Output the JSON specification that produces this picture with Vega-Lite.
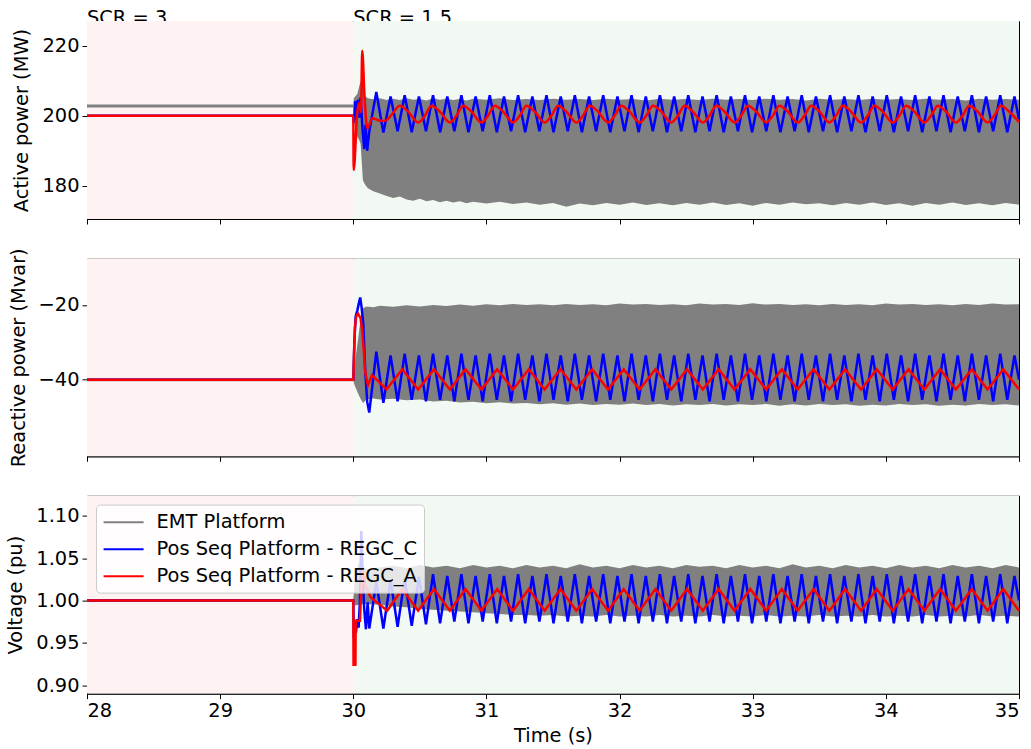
{
"$schema": "https://vega.github.io/schema/vega-lite/v6.json",
"padding": {"left": 5, "top": 7, "right": 5, "bottom": 5},
"background": "white",
"config": {
  "font": "DejaVu Sans",
  "view": {"stroke": "black", "strokeWidth": 1},
  "axis": {"labelFont": "DejaVu Sans", "titleFont": "DejaVu Sans", "labelFontSize": 19.4, "titleFontSize": 19.4, "titleFontWeight": "normal", "labelColor": "black", "titleColor": "black", "tickColor": "black", "domainColor": "black", "tickSize": 5, "grid": false, "labelPadding": 3}
},
"datasets": {
  "scr": [{"t": 28, "label": "SCR = 3"}, {"t": 30, "label": "SCR = 1.5"}],
  "bg": [{"t": 28, "t2": 30, "c": "pre"}, {"t": 30, "t2": 35, "c": "post"}],
  "pL": [{"t": 28, "v": 202.8}, {"t": 30, "v": 202.8}],
  "qL": [{"t": 28, "v": -40}, {"t": 30, "v": -40}],
  "vL": [{"t": 28, "v": 1}, {"t": 30, "v": 1}],
  "pE": [
    {"t":30,"v":202.35,"v2":203.25},{"t":30.004,"v":198.5,"v2":205},{"t":30.03,"v":194,"v2":206.2},{"t":30.045,"v":193,"v2":208.5},{"t":30.055,"v":192,"v2":209.8},{"t":30.065,"v":186,"v2":209.4},{"t":30.072,"v":181.6,"v2":207.6},{"t":30.09,"v":180.2,"v2":205.6},{"t":30.11,"v":179.3,"v2":205},{"t":30.15,"v":178.4,"v2":204.7},{"t":30.2,"v":177.8,"v2":205},{"t":30.25,"v":177.1,"v2":204.5},{"t":30.3,"v":176.5,"v2":204.9},{"t":30.35,"v":176.9,"v2":204.5},{"t":30.4,"v":176.1,"v2":205},{"t":30.45,"v":175.7,"v2":204.6},{"t":30.5,"v":176.3,"v2":204.8},{"t":30.55,"v":175.6,"v2":204.4},{"t":30.6,"v":175.9,"v2":205},{"t":30.65,"v":175.3,"v2":204.6},{"t":30.7,"v":175.7,"v2":204.9},{"t":30.75,"v":175.2,"v2":204.5},{"t":30.8,"v":175.6,"v2":204.8},{"t":30.85,"v":175,"v2":204.4},{"t":30.9,"v":175.4,"v2":204.9},{"t":31,"v":174.9,"v2":204.6},{"t":31.1,"v":175.4,"v2":205},{"t":31.2,"v":174.8,"v2":204.5},{"t":31.3,"v":175.2,"v2":204.8},{"t":31.4,"v":174.6,"v2":204.5},{"t":31.5,"v":175.1,"v2":204.9},{"t":31.6,"v":174,"v2":204.6},{"t":31.7,"v":174.9,"v2":204.8},{"t":31.8,"v":174.4,"v2":204.5},{"t":31.9,"v":175.1,"v2":204.9},{"t":32,"v":174.6,"v2":204.6},{"t":32.1,"v":175.2,"v2":204.8},{"t":32.2,"v":174.5,"v2":204.4},{"t":32.3,"v":175,"v2":204.9},{"t":32.4,"v":174.4,"v2":204.6},{"t":32.5,"v":175.1,"v2":204.8},{"t":32.6,"v":174.6,"v2":204.5},{"t":32.7,"v":175.2,"v2":204.9},{"t":32.8,"v":174.5,"v2":204.6},{"t":32.9,"v":175,"v2":204.8},{"t":33,"v":174.3,"v2":204.5},{"t":33.1,"v":175.1,"v2":204.9},{"t":33.2,"v":174.6,"v2":204.6},{"t":33.3,"v":175.2,"v2":204.8},{"t":33.4,"v":174.7,"v2":204.4},{"t":33.5,"v":175,"v2":204.9},{"t":33.6,"v":174.4,"v2":204.6},{"t":33.7,"v":175.1,"v2":204.8},{"t":33.8,"v":174.6,"v2":204.5},{"t":33.9,"v":175.2,"v2":204.9},{"t":34,"v":174.5,"v2":204.6},{"t":34.1,"v":175,"v2":204.8},{"t":34.2,"v":174.3,"v2":204.5},{"t":34.3,"v":175.1,"v2":204.9},{"t":34.4,"v":174.6,"v2":204.6},{"t":34.5,"v":175.2,"v2":204.8},{"t":34.6,"v":174.5,"v2":204.4},{"t":34.7,"v":175,"v2":204.9},{"t":34.8,"v":174.4,"v2":204.6},{"t":34.9,"v":175.1,"v2":204.8},{"t":35,"v":174.6,"v2":204.6}
  ],
  "qE": [
    {"t":30,"v":-40.3,"v2":-39.7},{"t":30.01,"v":-41.5,"v2":-36},{"t":30.04,"v":-44,"v2":-28},{"t":30.06,"v":-45.5,"v2":-22.5},{"t":30.075,"v":-46.2,"v2":-20.8},{"t":30.1,"v":-45.2,"v2":-20.4},{"t":30.15,"v":-45,"v2":-20.6},{"t":30.2,"v":-45.3,"v2":-20.2},{"t":30.3,"v":-45.1,"v2":-20.5},{"t":30.4,"v":-45.5,"v2":-20.1},{"t":30.5,"v":-45.3,"v2":-20.4},{"t":30.6,"v":-45.8,"v2":-20},{"t":30.7,"v":-45.6,"v2":-20.3},{"t":30.8,"v":-46.1,"v2":-19.9},{"t":30.9,"v":-45.9,"v2":-20.2},{"t":31,"v":-46.3,"v2":-19.8},{"t":31.1,"v":-46,"v2":-20.1},{"t":31.2,"v":-46.4,"v2":-19.7},{"t":31.3,"v":-46.2,"v2":-20},{"t":31.4,"v":-46.6,"v2":-19.8},{"t":31.5,"v":-46.3,"v2":-20.1},{"t":31.6,"v":-46.7,"v2":-19.7},{"t":31.7,"v":-46.4,"v2":-20},{"t":31.8,"v":-46.8,"v2":-19.8},{"t":31.9,"v":-46.5,"v2":-20.1},{"t":32,"v":-46.7,"v2":-19.6},{"t":32.1,"v":-46.4,"v2":-19.9},{"t":32.2,"v":-46.8,"v2":-19.7},{"t":32.3,"v":-46.5,"v2":-20},{"t":32.4,"v":-46.9,"v2":-19.8},{"t":32.5,"v":-46.6,"v2":-20.1},{"t":32.6,"v":-46.8,"v2":-19.6},{"t":32.7,"v":-46.5,"v2":-19.9},{"t":32.8,"v":-46.9,"v2":-19.7},{"t":32.9,"v":-46.6,"v2":-20},{"t":33,"v":-46.8,"v2":-19.5},{"t":33.1,"v":-46.5,"v2":-19.9},{"t":33.2,"v":-47,"v2":-19.7},{"t":33.3,"v":-46.6,"v2":-20},{"t":33.4,"v":-46.9,"v2":-19.8},{"t":33.5,"v":-46.5,"v2":-20.1},{"t":33.6,"v":-46.8,"v2":-19.7},{"t":33.7,"v":-46.6,"v2":-20},{"t":33.8,"v":-47,"v2":-19.8},{"t":33.9,"v":-46.7,"v2":-20.1},{"t":34,"v":-46.9,"v2":-19.6},{"t":34.1,"v":-46.5,"v2":-19.9},{"t":34.2,"v":-46.8,"v2":-19.7},{"t":34.3,"v":-46.6,"v2":-20},{"t":34.4,"v":-47,"v2":-19.8},{"t":34.5,"v":-46.7,"v2":-20.1},{"t":34.6,"v":-46.9,"v2":-19.7},{"t":34.7,"v":-46.5,"v2":-20},{"t":34.8,"v":-46.8,"v2":-19.6},{"t":34.9,"v":-46.6,"v2":-19.9},{"t":35,"v":-46.9,"v2":-19.8}
  ],
  "vE": [
    {"t":30,"v":0.9985,"v2":1.0015},{"t":30.015,"v":0.994,"v2":1.03},{"t":30.04,"v":0.995,"v2":1.045},{"t":30.07,"v":0.996,"v2":1.041},{"t":30.1,"v":0.996,"v2":1.037},{"t":30.2,"v":0.995,"v2":1.039},{"t":30.3,"v":0.993,"v2":1.041},{"t":30.4,"v":0.992,"v2":1.038},{"t":30.5,"v":0.99,"v2":1.042},{"t":30.6,"v":0.989,"v2":1.039},{"t":30.7,"v":0.988,"v2":1.041},{"t":30.8,"v":0.987,"v2":1.038},{"t":30.9,"v":0.986,"v2":1.042},{"t":31,"v":0.985,"v2":1.039},{"t":31.1,"v":0.984,"v2":1.041},{"t":31.2,"v":0.983,"v2":1.038},{"t":31.3,"v":0.983,"v2":1.042},{"t":31.4,"v":0.982,"v2":1.039},{"t":31.5,"v":0.983,"v2":1.041},{"t":31.6,"v":0.981,"v2":1.038},{"t":31.7,"v":0.982,"v2":1.043},{"t":31.8,"v":0.981,"v2":1.039},{"t":31.9,"v":0.983,"v2":1.041},{"t":32,"v":0.981,"v2":1.038},{"t":32.1,"v":0.982,"v2":1.042},{"t":32.2,"v":0.981,"v2":1.039},{"t":32.3,"v":0.983,"v2":1.041},{"t":32.4,"v":0.981,"v2":1.038},{"t":32.5,"v":0.982,"v2":1.042},{"t":32.6,"v":0.981,"v2":1.04},{"t":32.7,"v":0.983,"v2":1.041},{"t":32.8,"v":0.981,"v2":1.038},{"t":32.9,"v":0.982,"v2":1.042},{"t":33,"v":0.981,"v2":1.039},{"t":33.1,"v":0.983,"v2":1.041},{"t":33.2,"v":0.981,"v2":1.038},{"t":33.3,"v":0.982,"v2":1.043},{"t":33.4,"v":0.981,"v2":1.039},{"t":33.5,"v":0.983,"v2":1.041},{"t":33.6,"v":0.981,"v2":1.038},{"t":33.7,"v":0.982,"v2":1.042},{"t":33.8,"v":0.981,"v2":1.039},{"t":33.9,"v":0.983,"v2":1.041},{"t":34,"v":0.981,"v2":1.038},{"t":34.1,"v":0.982,"v2":1.042},{"t":34.2,"v":0.981,"v2":1.039},{"t":34.3,"v":0.983,"v2":1.041},{"t":34.4,"v":0.981,"v2":1.038},{"t":34.5,"v":0.982,"v2":1.042},{"t":34.6,"v":0.981,"v2":1.039},{"t":34.7,"v":0.983,"v2":1.041},{"t":34.8,"v":0.981,"v2":1.038},{"t":34.9,"v":0.982,"v2":1.042},{"t":35,"v":0.981,"v2":1.039}
  ],
  "pC": [
    {"t":28,"v":200},{"t":30,"v":200},{"t":30.005,"v":198},{"t":30.015,"v":204.2},{"t":30.025,"v":198.8},{"t":30.035,"v":204.6},{"t":30.045,"v":199.5},{"t":30.055,"v":205.3},{"t":30.068,"v":197},{"t":30.082,"v":190.5},{"t":30.092,"v":197.5},{"t":30.104,"v":190},{"t":30.12,"v":195.5},
    {"t":30.173,"v":206.8},{"t":30.226,"v":195.2},{"t":30.28,"v":205.5},{"t":30.333,"v":195.6},{"t":30.386,"v":205.9},{"t":30.439,"v":195.3},{"t":30.493,"v":205.5},{"t":30.546,"v":195.6},{"t":30.599,"v":205.9},{"t":30.652,"v":195.3},{"t":30.706,"v":205.5},{"t":30.759,"v":195.6},{"t":30.812,"v":205.9},{"t":30.865,"v":195.3},{"t":30.919,"v":205.5},{"t":30.972,"v":195.6},{"t":31.025,"v":205.9},{"t":31.078,"v":195.3},{"t":31.132,"v":205.5},{"t":31.185,"v":195.6},{"t":31.238,"v":205.9},{"t":31.291,"v":195.3},{"t":31.345,"v":205.5},{"t":31.398,"v":195.6},{"t":31.451,"v":205.9},{"t":31.504,"v":195.3},{"t":31.558,"v":205.5},{"t":31.611,"v":195.6},{"t":31.664,"v":205.9},{"t":31.717,"v":195.3},{"t":31.771,"v":205.5},{"t":31.824,"v":195.6},{"t":31.877,"v":205.9},{"t":31.93,"v":195.3},{"t":31.984,"v":205.5},{"t":32.037,"v":195.6},{"t":32.09,"v":205.9},{"t":32.143,"v":195.3},{"t":32.197,"v":205.5},{"t":32.25,"v":195.6},{"t":32.303,"v":205.9},{"t":32.356,"v":195.3},{"t":32.41,"v":205.5},{"t":32.463,"v":195.6},{"t":32.516,"v":205.9},{"t":32.569,"v":195.3},{"t":32.623,"v":205.5},{"t":32.676,"v":195.6},{"t":32.729,"v":205.9},{"t":32.782,"v":195.3},{"t":32.836,"v":205.5},{"t":32.889,"v":195.6},{"t":32.942,"v":205.9},{"t":32.995,"v":195.3},{"t":33.049,"v":205.5},{"t":33.102,"v":195.6},{"t":33.155,"v":205.9},{"t":33.208,"v":195.3},{"t":33.262,"v":205.5},{"t":33.315,"v":195.6},{"t":33.368,"v":205.9},{"t":33.421,"v":195.3},{"t":33.475,"v":205.5},{"t":33.528,"v":195.6},{"t":33.581,"v":205.9},{"t":33.634,"v":195.3},{"t":33.688,"v":205.5},{"t":33.741,"v":195.6},{"t":33.794,"v":205.9},{"t":33.847,"v":195.3},{"t":33.901,"v":205.5},{"t":33.954,"v":195.6},{"t":34.007,"v":205.9},{"t":34.06,"v":195.3},{"t":34.114,"v":205.5},{"t":34.167,"v":195.6},{"t":34.22,"v":205.9},{"t":34.273,"v":195.3},{"t":34.327,"v":205.5},{"t":34.38,"v":195.6},{"t":34.433,"v":205.9},{"t":34.486,"v":195.3},{"t":34.54,"v":205.5},{"t":34.593,"v":195.6},{"t":34.646,"v":205.9},{"t":34.699,"v":195.3},{"t":34.753,"v":205.5},{"t":34.806,"v":195.6},{"t":34.859,"v":205.9},{"t":34.912,"v":195.3},{"t":34.966,"v":205.5},{"t":35,"v":199}
  ],
  "qC": [
    {"t":28,"v":-40},{"t":30,"v":-40},{"t":30.008,"v":-30},{"t":30.018,"v":-23},{"t":30.03,"v":-21.5},{"t":30.042,"v":-19.5},{"t":30.052,"v":-18},{"t":30.062,"v":-20.5},{"t":30.075,"v":-25},{"t":30.09,"v":-38},{"t":30.105,"v":-46},{"t":30.12,"v":-48.8},
    {"t":30.173,"v":-32.5},{"t":30.226,"v":-46.2},{"t":30.28,"v":-33.5},{"t":30.333,"v":-45.8},{"t":30.386,"v":-33},{"t":30.439,"v":-45.4},{"t":30.493,"v":-33.5},{"t":30.546,"v":-45.8},{"t":30.599,"v":-33},{"t":30.652,"v":-45.4},{"t":30.706,"v":-33.5},{"t":30.759,"v":-45.8},{"t":30.812,"v":-33},{"t":30.865,"v":-45.4},{"t":30.919,"v":-33.5},{"t":30.972,"v":-45.8},{"t":31.025,"v":-33},{"t":31.078,"v":-45.4},{"t":31.132,"v":-33.5},{"t":31.185,"v":-45.8},{"t":31.238,"v":-33},{"t":31.291,"v":-45.4},{"t":31.345,"v":-33.5},{"t":31.398,"v":-45.8},{"t":31.451,"v":-33},{"t":31.504,"v":-45.4},{"t":31.558,"v":-33.5},{"t":31.611,"v":-45.8},{"t":31.664,"v":-33},{"t":31.717,"v":-45.4},{"t":31.771,"v":-33.5},{"t":31.824,"v":-45.8},{"t":31.877,"v":-33},{"t":31.93,"v":-45.4},{"t":31.984,"v":-33.5},{"t":32.037,"v":-45.8},{"t":32.09,"v":-33},{"t":32.143,"v":-45.4},{"t":32.197,"v":-33.5},{"t":32.25,"v":-45.8},{"t":32.303,"v":-33},{"t":32.356,"v":-45.4},{"t":32.41,"v":-33.5},{"t":32.463,"v":-45.8},{"t":32.516,"v":-33},{"t":32.569,"v":-45.4},{"t":32.623,"v":-33.5},{"t":32.676,"v":-45.8},{"t":32.729,"v":-33},{"t":32.782,"v":-45.4},{"t":32.836,"v":-33.5},{"t":32.889,"v":-45.8},{"t":32.942,"v":-33},{"t":32.995,"v":-45.4},{"t":33.049,"v":-33.5},{"t":33.102,"v":-45.8},{"t":33.155,"v":-33},{"t":33.208,"v":-45.4},{"t":33.262,"v":-33.5},{"t":33.315,"v":-45.8},{"t":33.368,"v":-33},{"t":33.421,"v":-45.4},{"t":33.475,"v":-33.5},{"t":33.528,"v":-45.8},{"t":33.581,"v":-33},{"t":33.634,"v":-45.4},{"t":33.688,"v":-33.5},{"t":33.741,"v":-45.8},{"t":33.794,"v":-33},{"t":33.847,"v":-45.4},{"t":33.901,"v":-33.5},{"t":33.954,"v":-45.8},{"t":34.007,"v":-33},{"t":34.06,"v":-45.4},{"t":34.114,"v":-33.5},{"t":34.167,"v":-45.8},{"t":34.22,"v":-33},{"t":34.273,"v":-45.4},{"t":34.327,"v":-33.5},{"t":34.38,"v":-45.8},{"t":34.433,"v":-33},{"t":34.486,"v":-45.4},{"t":34.54,"v":-33.5},{"t":34.593,"v":-45.8},{"t":34.646,"v":-33},{"t":34.699,"v":-45.4},{"t":34.753,"v":-33.5},{"t":34.806,"v":-45.8},{"t":34.859,"v":-33},{"t":34.912,"v":-45.4},{"t":34.966,"v":-33.5},{"t":35,"v":-40}
  ],
  "vC": [
    {"t":28,"v":1},{"t":30,"v":1},{"t":30.004,"v":0.955},{"t":30.012,"v":0.972},{"t":30.02,"v":0.962},{"t":30.03,"v":0.978},{"t":30.04,"v":0.968},{"t":30.05,"v":1},{"t":30.06,"v":1.082},{"t":30.07,"v":1.03},{"t":30.082,"v":0.99},{"t":30.095,"v":0.966},{"t":30.108,"v":0.998},{"t":30.12,"v":0.967},
    {"t":30.173,"v":1.022},{"t":30.226,"v":0.967},{"t":30.28,"v":1.024},{"t":30.333,"v":0.969},{"t":30.386,"v":1.026},{"t":30.439,"v":0.97},{"t":30.493,"v":1.028},{"t":30.546,"v":0.972},{"t":30.599,"v":1.031},{"t":30.652,"v":0.973},{"t":30.706,"v":1.029},{"t":30.759,"v":0.975},{"t":30.812,"v":1.031},{"t":30.865,"v":0.973},{"t":30.919,"v":1.029},{"t":30.972,"v":0.975},{"t":31.025,"v":1.031},{"t":31.078,"v":0.973},{"t":31.132,"v":1.029},{"t":31.185,"v":0.975},{"t":31.238,"v":1.031},{"t":31.291,"v":0.973},{"t":31.345,"v":1.029},{"t":31.398,"v":0.975},{"t":31.451,"v":1.031},{"t":31.504,"v":0.973},{"t":31.558,"v":1.029},{"t":31.611,"v":0.975},{"t":31.664,"v":1.031},{"t":31.717,"v":0.973},{"t":31.771,"v":1.029},{"t":31.824,"v":0.975},{"t":31.877,"v":1.031},{"t":31.93,"v":0.973},{"t":31.984,"v":1.029},{"t":32.037,"v":0.975},{"t":32.09,"v":1.031},{"t":32.143,"v":0.973},{"t":32.197,"v":1.029},{"t":32.25,"v":0.975},{"t":32.303,"v":1.031},{"t":32.356,"v":0.973},{"t":32.41,"v":1.029},{"t":32.463,"v":0.975},{"t":32.516,"v":1.031},{"t":32.569,"v":0.973},{"t":32.623,"v":1.029},{"t":32.676,"v":0.975},{"t":32.729,"v":1.031},{"t":32.782,"v":0.973},{"t":32.836,"v":1.029},{"t":32.889,"v":0.975},{"t":32.942,"v":1.031},{"t":32.995,"v":0.973},{"t":33.049,"v":1.029},{"t":33.102,"v":0.975},{"t":33.155,"v":1.031},{"t":33.208,"v":0.973},{"t":33.262,"v":1.029},{"t":33.315,"v":0.975},{"t":33.368,"v":1.031},{"t":33.421,"v":0.973},{"t":33.475,"v":1.029},{"t":33.528,"v":0.975},{"t":33.581,"v":1.031},{"t":33.634,"v":0.973},{"t":33.688,"v":1.029},{"t":33.741,"v":0.975},{"t":33.794,"v":1.031},{"t":33.847,"v":0.973},{"t":33.901,"v":1.029},{"t":33.954,"v":0.975},{"t":34.007,"v":1.031},{"t":34.06,"v":0.973},{"t":34.114,"v":1.029},{"t":34.167,"v":0.975},{"t":34.22,"v":1.031},{"t":34.273,"v":0.973},{"t":34.327,"v":1.029},{"t":34.38,"v":0.975},{"t":34.433,"v":1.031},{"t":34.486,"v":0.973},{"t":34.54,"v":1.029},{"t":34.593,"v":0.975},{"t":34.646,"v":1.031},{"t":34.699,"v":0.973},{"t":34.753,"v":1.029},{"t":34.806,"v":0.975},{"t":34.859,"v":1.031},{"t":34.912,"v":0.973},{"t":34.966,"v":1.029},{"t":35,"v":1}
  ],
  "pA": [
    {"t":28,"v":200},{"t":30,"v":200},{"t":30.003,"v":184.5},{"t":30.03,"v":201},{"t":30.042,"v":203.5},{"t":30.058,"v":201.1},{"t":30.067,"v":218.6},{"t":30.085,"v":205},{"t":30.105,"v":196.4},{"t":30.143,"v":199.3},{"t":30.2,"v":198.6},{"t":30.24,"v":198.6},{"t":30.29,"v":200.4},
    {"t":30.35,"v":202.9},{"t":30.41,"v":201.3},{"t":30.487,"v":198.1},{"t":30.54,"v":200.2},
    {"t":30.588,"v":202.9},{"t":30.648,"v":201.3},{"t":30.725,"v":198.1},{"t":30.778,"v":200.2},
    {"t":30.825,"v":202.9},{"t":30.885,"v":201.3},{"t":30.962,"v":198.1},{"t":31.015,"v":200.2},
    {"t":31.063,"v":202.9},{"t":31.123,"v":201.3},{"t":31.2,"v":198.1},{"t":31.253,"v":200.2},
    {"t":31.3,"v":202.9},{"t":31.36,"v":201.3},{"t":31.437,"v":198.1},{"t":31.49,"v":200.2},
    {"t":31.538,"v":202.9},{"t":31.598,"v":201.3},{"t":31.675,"v":198.1},{"t":31.728,"v":200.2},
    {"t":31.776,"v":202.9},{"t":31.836,"v":201.3},{"t":31.913,"v":198.1},{"t":31.966,"v":200.2},
    {"t":32.013,"v":202.9},{"t":32.073,"v":201.3},{"t":32.15,"v":198.1},{"t":32.203,"v":200.2},
    {"t":32.251,"v":202.9},{"t":32.311,"v":201.3},{"t":32.388,"v":198.1},{"t":32.441,"v":200.2},
    {"t":32.488,"v":202.9},{"t":32.548,"v":201.3},{"t":32.625,"v":198.1},{"t":32.678,"v":200.2},
    {"t":32.726,"v":202.9},{"t":32.786,"v":201.3},{"t":32.863,"v":198.1},{"t":32.916,"v":200.2},
    {"t":32.964,"v":202.9},{"t":33.024,"v":201.3},{"t":33.101,"v":198.1},{"t":33.154,"v":200.2},
    {"t":33.201,"v":202.9},{"t":33.261,"v":201.3},{"t":33.338,"v":198.1},{"t":33.391,"v":200.2},
    {"t":33.439,"v":202.9},{"t":33.499,"v":201.3},{"t":33.576,"v":198.1},{"t":33.629,"v":200.2},
    {"t":33.676,"v":202.9},{"t":33.736,"v":201.3},{"t":33.813,"v":198.1},{"t":33.866,"v":200.2},
    {"t":33.914,"v":202.9},{"t":33.974,"v":201.3},{"t":34.051,"v":198.1},{"t":34.104,"v":200.2},
    {"t":34.152,"v":202.9},{"t":34.212,"v":201.3},{"t":34.289,"v":198.1},{"t":34.342,"v":200.2},
    {"t":34.389,"v":202.9},{"t":34.449,"v":201.3},{"t":34.526,"v":198.1},{"t":34.579,"v":200.2},
    {"t":34.627,"v":202.9},{"t":34.687,"v":201.3},{"t":34.764,"v":198.1},{"t":34.817,"v":200.2},
    {"t":34.864,"v":202.9},{"t":34.924,"v":201.3},{"t":35,"v":198.2}
  ],
  "qA": [
    {"t":28,"v":-40},{"t":30,"v":-40},{"t":30.012,"v":-26},{"t":30.022,"v":-23},{"t":30.035,"v":-22.3},{"t":30.055,"v":-23.5},{"t":30.07,"v":-28},{"t":30.09,"v":-38},{"t":30.11,"v":-41.5},{"t":30.14,"v":-38.8},{"t":30.17,"v":-39.8},{"t":30.249,"v":-42.6},
    {"t":30.368,"v":-37.2},{"t":30.487,"v":-42.6},{"t":30.606,"v":-37.2},{"t":30.725,"v":-42.6},{"t":30.843,"v":-37.2},{"t":30.962,"v":-42.6},{"t":31.081,"v":-37.2},{"t":31.2,"v":-42.6},{"t":31.318,"v":-37.2},{"t":31.437,"v":-42.6},{"t":31.556,"v":-37.2},{"t":31.675,"v":-42.6},{"t":31.794,"v":-37.2},{"t":31.913,"v":-42.6},{"t":32.031,"v":-37.2},{"t":32.15,"v":-42.6},{"t":32.269,"v":-37.2},{"t":32.388,"v":-42.6},{"t":32.506,"v":-37.2},{"t":32.625,"v":-42.6},{"t":32.744,"v":-37.2},{"t":32.863,"v":-42.6},{"t":32.982,"v":-37.2},{"t":33.101,"v":-42.6},{"t":33.219,"v":-37.2},{"t":33.338,"v":-42.6},{"t":33.457,"v":-37.2},{"t":33.576,"v":-42.6},{"t":33.694,"v":-37.2},{"t":33.813,"v":-42.6},{"t":33.932,"v":-37.2},{"t":34.051,"v":-42.6},{"t":34.17,"v":-37.2},{"t":34.289,"v":-42.6},{"t":34.407,"v":-37.2},{"t":34.526,"v":-42.6},{"t":34.645,"v":-37.2},{"t":34.764,"v":-42.6},{"t":34.882,"v":-37.2},{"t":35,"v":-42.6}
  ],
  "vA": [
    {"t":28,"v":1},{"t":30,"v":1},{"t":30.002,"v":0.924},{"t":30.016,"v":0.924},{"t":30.018,"v":0.976},{"t":30.05,"v":0.976},{"t":30.056,"v":1},{"t":30.07,"v":1.038},{"t":30.09,"v":1.018},{"t":30.13,"v":1.004},{"t":30.255,"v":0.988},
    {"t":30.368,"v":1.0135},{"t":30.487,"v":0.988},{"t":30.606,"v":1.0135},{"t":30.725,"v":0.988},{"t":30.843,"v":1.0135},{"t":30.962,"v":0.988},{"t":31.081,"v":1.0135},{"t":31.2,"v":0.988},{"t":31.318,"v":1.0135},{"t":31.437,"v":0.988},{"t":31.556,"v":1.0135},{"t":31.675,"v":0.988},{"t":31.794,"v":1.0135},{"t":31.913,"v":0.988},{"t":32.031,"v":1.0135},{"t":32.15,"v":0.988},{"t":32.269,"v":1.0135},{"t":32.388,"v":0.988},{"t":32.506,"v":1.0135},{"t":32.625,"v":0.988},{"t":32.744,"v":1.0135},{"t":32.863,"v":0.988},{"t":32.982,"v":1.0135},{"t":33.101,"v":0.988},{"t":33.219,"v":1.0135},{"t":33.338,"v":0.988},{"t":33.457,"v":1.0135},{"t":33.576,"v":0.988},{"t":33.694,"v":1.0135},{"t":33.813,"v":0.988},{"t":33.932,"v":1.0135},{"t":34.051,"v":0.988},{"t":34.17,"v":1.0135},{"t":34.289,"v":0.988},{"t":34.407,"v":1.0135},{"t":34.526,"v":0.988},{"t":34.645,"v":1.0135},{"t":34.764,"v":0.988},{"t":34.882,"v":1.0135},{"t":35,"v":0.988}
  ]
},
"spacing": 39.3,
"bounds": "flush",
"resolve": {"scale": {"color": "independent"}},
"vconcat": [
  {
    "width": 932, "height": 198,
    "layer": [
      {"data": {"name": "scr"}, "mark": {"type": "text", "align": "left", "baseline": "alphabetic", "dy": 2.6, "fontSize": 19.4, "font": "DejaVu Sans", "color": "black"},
       "encoding": {
         "x": {"field": "t", "type": "quantitative", "scale": {"domain": [28, 35], "nice": false, "zero": false}, "axis": {"values": [28, 29, 30, 31, 32, 33, 34, 35], "labels": false, "title": null}},
         "y": {"datum": 227.1, "type": "quantitative", "scale": {"domain": [170.5, 227.1], "nice": false, "zero": false}, "axis": {"values": [180, 200, 220], "title": "Active power (MW)", "titlePadding": 10}},
         "text": {"field": "label", "type": "nominal"}}},
      {"data": {"name": "bg"}, "mark": {"type": "rect"},
       "encoding": {
         "x": {"field": "t", "type": "quantitative", "scale": {"domain": [28, 35], "nice": false, "zero": false}, "axis": {"values": [28, 29, 30, 31, 32, 33, 34, 35], "labels": false, "title": null}},
         "x2": {"field": "t2"},
         "fill": {"field": "c", "type": "nominal", "scale": {"domain": ["pre", "post"], "range": ["#fff2f2", "#f2f9f2"]}, "legend": null}}},
      {"data": {"name": "pE"}, "mark": {"type": "area", "color": "#808080"},
       "encoding": {
         "x": {"field": "t", "type": "quantitative", "scale": {"domain": [28, 35], "nice": false, "zero": false}, "axis": {"values": [28, 29, 30, 31, 32, 33, 34, 35], "labels": false, "title": null}},
         "y": {"field": "v", "type": "quantitative", "scale": {"domain": [170.5, 227.1], "nice": false, "zero": false}, "axis": {"values": [180, 200, 220], "title": "Active power (MW)", "titlePadding": 10}},
         "y2": {"field": "v2"}}},
      {"data": {"name": "pL"}, "mark": {"type": "line", "strokeWidth": 3},
       "encoding": {
         "x": {"field": "t", "type": "quantitative", "scale": {"domain": [28, 35], "nice": false, "zero": false}, "axis": {"values": [28, 29, 30, 31, 32, 33, 34, 35], "labels": false, "title": null}},
         "y": {"field": "v", "type": "quantitative", "scale": {"domain": [170.5, 227.1], "nice": false, "zero": false}, "axis": {"values": [180, 200, 220], "title": "Active power (MW)", "titlePadding": 10}},
         "color": {"datum": "EMT Platform", "type": "nominal", "scale": {"domain": ["EMT Platform", "Pos Seq Platform - REGC_C", "Pos Seq Platform - REGC_A"], "range": ["#808080", "#0000ff", "#ff0000"]}, "legend": null}}},
      {"data": {"name": "pC"}, "mark": {"type": "line", "strokeWidth": 2.5},
       "encoding": {
         "x": {"field": "t", "type": "quantitative", "scale": {"domain": [28, 35], "nice": false, "zero": false}, "axis": {"values": [28, 29, 30, 31, 32, 33, 34, 35], "labels": false, "title": null}},
         "y": {"field": "v", "type": "quantitative", "scale": {"domain": [170.5, 227.1], "nice": false, "zero": false}, "axis": {"values": [180, 200, 220], "title": "Active power (MW)", "titlePadding": 10}},
         "color": {"datum": "Pos Seq Platform - REGC_C", "type": "nominal", "scale": {"domain": ["EMT Platform", "Pos Seq Platform - REGC_C", "Pos Seq Platform - REGC_A"], "range": ["#808080", "#0000ff", "#ff0000"]}, "legend": null}}},
      {"data": {"name": "pA"}, "mark": {"type": "line", "strokeWidth": 2.5, "interpolate": "monotone"},
       "encoding": {
         "x": {"field": "t", "type": "quantitative", "scale": {"domain": [28, 35], "nice": false, "zero": false}, "axis": {"values": [28, 29, 30, 31, 32, 33, 34, 35], "labels": false, "title": null}},
         "y": {"field": "v", "type": "quantitative", "scale": {"domain": [170.5, 227.1], "nice": false, "zero": false}, "axis": {"values": [180, 200, 220], "title": "Active power (MW)", "titlePadding": 10}},
         "color": {"datum": "Pos Seq Platform - REGC_A", "type": "nominal", "scale": {"domain": ["EMT Platform", "Pos Seq Platform - REGC_C", "Pos Seq Platform - REGC_A"], "range": ["#808080", "#0000ff", "#ff0000"]}, "legend": null}}}
    ]
  },
  {
    "width": 932, "height": 198,
    "layer": [
      {"data": {"name": "bg"}, "mark": {"type": "rect"},
       "encoding": {
         "x": {"field": "t", "type": "quantitative", "scale": {"domain": [28, 35], "nice": false, "zero": false}, "axis": {"values": [28, 29, 30, 31, 32, 33, 34, 35], "labels": false, "title": null}},
         "x2": {"field": "t2"},
         "fill": {"field": "c", "type": "nominal", "scale": {"domain": ["pre", "post"], "range": ["#fff2f2", "#f2f9f2"]}, "legend": null}}},
      {"data": {"name": "qE"}, "mark": {"type": "area", "color": "#808080"},
       "encoding": {
         "x": {"field": "t", "type": "quantitative", "scale": {"domain": [28, 35], "nice": false, "zero": false}, "axis": {"values": [28, 29, 30, 31, 32, 33, 34, 35], "labels": false, "title": null}},
         "y": {"field": "v", "type": "quantitative", "scale": {"domain": [-60.5, -7.5], "nice": false, "zero": false}, "axis": {"values": [-40, -20], "title": "Reactive power (Mvar)", "titlePadding": 10}},
         "y2": {"field": "v2"}}},
      {"data": {"name": "qL"}, "mark": {"type": "line", "strokeWidth": 3},
       "encoding": {
         "x": {"field": "t", "type": "quantitative", "scale": {"domain": [28, 35], "nice": false, "zero": false}, "axis": {"values": [28, 29, 30, 31, 32, 33, 34, 35], "labels": false, "title": null}},
         "y": {"field": "v", "type": "quantitative", "scale": {"domain": [-60.5, -7.5], "nice": false, "zero": false}, "axis": {"values": [-40, -20], "title": "Reactive power (Mvar)", "titlePadding": 10}},
         "color": {"datum": "EMT Platform", "type": "nominal", "scale": {"domain": ["EMT Platform", "Pos Seq Platform - REGC_C", "Pos Seq Platform - REGC_A"], "range": ["#808080", "#0000ff", "#ff0000"]}, "legend": null}}},
      {"data": {"name": "qC"}, "mark": {"type": "line", "strokeWidth": 2.5},
       "encoding": {
         "x": {"field": "t", "type": "quantitative", "scale": {"domain": [28, 35], "nice": false, "zero": false}, "axis": {"values": [28, 29, 30, 31, 32, 33, 34, 35], "labels": false, "title": null}},
         "y": {"field": "v", "type": "quantitative", "scale": {"domain": [-60.5, -7.5], "nice": false, "zero": false}, "axis": {"values": [-40, -20], "title": "Reactive power (Mvar)", "titlePadding": 10}},
         "color": {"datum": "Pos Seq Platform - REGC_C", "type": "nominal", "scale": {"domain": ["EMT Platform", "Pos Seq Platform - REGC_C", "Pos Seq Platform - REGC_A"], "range": ["#808080", "#0000ff", "#ff0000"]}, "legend": null}}},
      {"data": {"name": "qA"}, "mark": {"type": "line", "strokeWidth": 2.5},
       "encoding": {
         "x": {"field": "t", "type": "quantitative", "scale": {"domain": [28, 35], "nice": false, "zero": false}, "axis": {"values": [28, 29, 30, 31, 32, 33, 34, 35], "labels": false, "title": null}},
         "y": {"field": "v", "type": "quantitative", "scale": {"domain": [-60.5, -7.5], "nice": false, "zero": false}, "axis": {"values": [-40, -20], "title": "Reactive power (Mvar)", "titlePadding": 10}},
         "color": {"datum": "Pos Seq Platform - REGC_A", "type": "nominal", "scale": {"domain": ["EMT Platform", "Pos Seq Platform - REGC_C", "Pos Seq Platform - REGC_A"], "range": ["#808080", "#0000ff", "#ff0000"]}, "legend": null}}}
    ]
  },
  {
    "width": 932, "height": 198,
    "layer": [
      {"data": {"name": "bg"}, "mark": {"type": "rect"},
       "encoding": {
         "x": {"field": "t", "type": "quantitative", "scale": {"domain": [28, 35], "nice": false, "zero": false}, "axis": {"values": [28, 29, 30, 31, 32, 33, 34, 35], "title": "Time (s)", "titlePadding": 6}},
         "x2": {"field": "t2"},
         "fill": {"field": "c", "type": "nominal", "scale": {"domain": ["pre", "post"], "range": ["#fff2f2", "#f2f9f2"]}, "legend": null}}},
      {"data": {"name": "vE"}, "mark": {"type": "area", "color": "#808080"},
       "encoding": {
         "x": {"field": "t", "type": "quantitative", "scale": {"domain": [28, 35], "nice": false, "zero": false}, "axis": {"values": [28, 29, 30, 31, 32, 33, 34, 35], "title": "Time (s)", "titlePadding": 6}},
         "y": {"field": "v", "type": "quantitative", "scale": {"domain": [0.89, 1.124], "nice": false, "zero": false}, "axis": {"values": [0.9, 0.95, 1.0, 1.05, 1.1], "format": ".2f", "title": "Voltage (pu)", "titlePadding": 10}},
         "y2": {"field": "v2"}}},
      {"data": {"name": "vL"}, "mark": {"type": "line", "strokeWidth": 3},
       "encoding": {
         "x": {"field": "t", "type": "quantitative", "scale": {"domain": [28, 35], "nice": false, "zero": false}, "axis": {"values": [28, 29, 30, 31, 32, 33, 34, 35], "title": "Time (s)", "titlePadding": 6}},
         "y": {"field": "v", "type": "quantitative", "scale": {"domain": [0.89, 1.124], "nice": false, "zero": false}, "axis": {"values": [0.9, 0.95, 1.0, 1.05, 1.1], "format": ".2f", "title": "Voltage (pu)", "titlePadding": 10}},
         "color": {"datum": "EMT Platform", "type": "nominal", "scale": {"domain": ["EMT Platform", "Pos Seq Platform - REGC_C", "Pos Seq Platform - REGC_A"], "range": ["#808080", "#0000ff", "#ff0000"]},
           "legend": {"title": null, "orient": "top-left", "offset": 9, "symbolType": "M-1,0H3", "symbolSize": 400, "symbolStrokeWidth": 2, "labelFontSize": 19.4, "labelFont": "DejaVu Sans", "labelColor": "black", "labelOffset": 32, "padding": 6.6, "rowPadding": 6, "fillColor": "rgba(255,255,255,0.8)", "strokeColor": "#cccccc", "cornerRadius": 4, "labelLimit": 500}}}},
      {"data": {"name": "vC"}, "mark": {"type": "line", "strokeWidth": 2.5},
       "encoding": {
         "x": {"field": "t", "type": "quantitative", "scale": {"domain": [28, 35], "nice": false, "zero": false}, "axis": {"values": [28, 29, 30, 31, 32, 33, 34, 35], "title": "Time (s)", "titlePadding": 6}},
         "y": {"field": "v", "type": "quantitative", "scale": {"domain": [0.89, 1.124], "nice": false, "zero": false}, "axis": {"values": [0.9, 0.95, 1.0, 1.05, 1.1], "format": ".2f", "title": "Voltage (pu)", "titlePadding": 10}},
         "color": {"datum": "Pos Seq Platform - REGC_C", "type": "nominal", "scale": {"domain": ["EMT Platform", "Pos Seq Platform - REGC_C", "Pos Seq Platform - REGC_A"], "range": ["#808080", "#0000ff", "#ff0000"]},
           "legend": {"title": null, "orient": "top-left", "offset": 9, "symbolType": "M-1,0H3", "symbolSize": 400, "symbolStrokeWidth": 2, "labelFontSize": 19.4, "labelFont": "DejaVu Sans", "labelColor": "black", "labelOffset": 32, "padding": 6.6, "rowPadding": 6, "fillColor": "rgba(255,255,255,0.8)", "strokeColor": "#cccccc", "cornerRadius": 4, "labelLimit": 500}}}},
      {"data": {"name": "vA"}, "mark": {"type": "line", "strokeWidth": 2.5},
       "encoding": {
         "x": {"field": "t", "type": "quantitative", "scale": {"domain": [28, 35], "nice": false, "zero": false}, "axis": {"values": [28, 29, 30, 31, 32, 33, 34, 35], "title": "Time (s)", "titlePadding": 6}},
         "y": {"field": "v", "type": "quantitative", "scale": {"domain": [0.89, 1.124], "nice": false, "zero": false}, "axis": {"values": [0.9, 0.95, 1.0, 1.05, 1.1], "format": ".2f", "title": "Voltage (pu)", "titlePadding": 10}},
         "color": {"datum": "Pos Seq Platform - REGC_A", "type": "nominal", "scale": {"domain": ["EMT Platform", "Pos Seq Platform - REGC_C", "Pos Seq Platform - REGC_A"], "range": ["#808080", "#0000ff", "#ff0000"]},
           "legend": {"title": null, "orient": "top-left", "offset": 9, "symbolType": "M-1,0H3", "symbolSize": 400, "symbolStrokeWidth": 2, "labelFontSize": 19.4, "labelFont": "DejaVu Sans", "labelColor": "black", "labelOffset": 32, "padding": 6.6, "rowPadding": 6, "fillColor": "rgba(255,255,255,0.8)", "strokeColor": "#cccccc", "cornerRadius": 4, "labelLimit": 500}}}}
    ]
  }
]
}
